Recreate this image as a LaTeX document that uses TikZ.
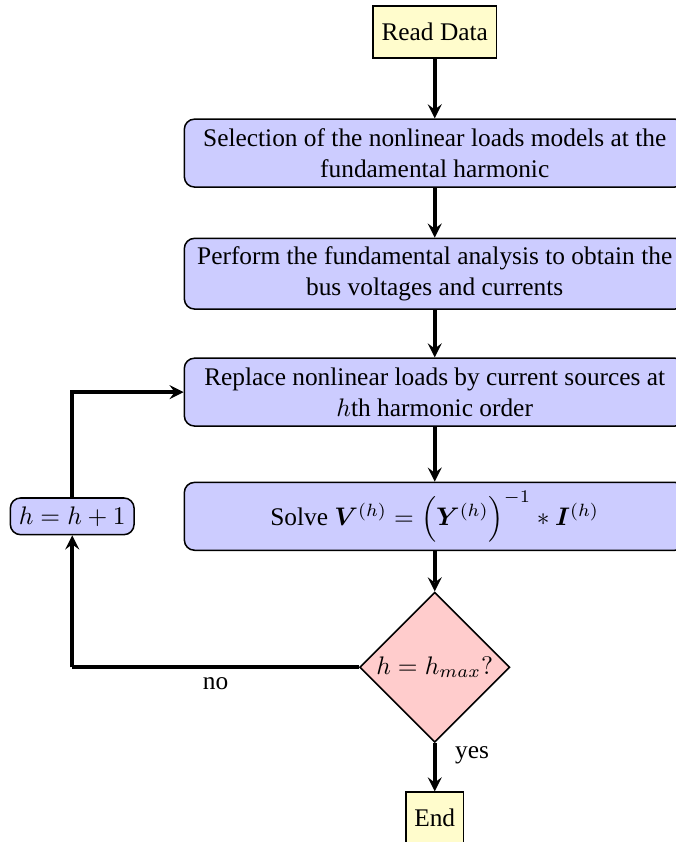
\documentclass[tikz,border=0pt]{standalone}
\usepackage{amsmath}
\usepackage{bm}
\usepackage[no-math]{fontspec}
\setmainfont{Liberation Serif}
\usetikzlibrary{shapes.geometric}

\begin{document}
\begin{tikzpicture}[>=stealth,
    proses/.style={draw, semithick, rounded corners, fill=blue!20, text width=6.7cm, align=flush center, minimum height=0.94cm},
    terminal/.style={draw, semithick, fill=yellow!20, minimum height=0.72cm},
    keputusan/.style={draw, semithick, diamond, aspect=1, fill=red!20, minimum width=2.08cm, minimum height=2.08cm, inner sep=1pt},
    hitung/.style={draw, semithick, rounded corners, fill=blue!20},
    garis/.style={line width=1.4pt},
    alur/.style={->, garis}]

    % Batas gambar
    \useasboundingbox (0,0) rectangle (9.36,-11.66);

    % Simpul utama (kolom tengah)
    \node[terminal] (baca) at (6.02,-0.44) {Read Data};
    \node[proses] (model) at (6.02,-2.12) {Selection of the nonlinear loads models at the fundamental harmonic};
    \node[proses] (fundamental) at (6.02,-3.79) {Perform the fundamental analysis to obtain the bus voltages and currents};
    \node[proses] (ganti) at (6.02,-5.43) {Replace nonlinear loads by current sources at $h$th harmonic order};
    \node[proses] (solusi) at (6.02,-7.15) {Solve $\bm{V}^{(h)} = \Big(\bm{Y}^{(h)}\Big)^{-1} * \bm{I}^{(h)}$};
    \node[keputusan] (cek) at (6.02,-9.24) {$h = h_{max}?$};
    \node[terminal] (akhir) at (6.02,-11.33) {End};

    % Simpul iterasi (kiri)
    \node[hitung] (iterasi) at (1.00,-7.15) {$h = h + 1$};
    \coordinate (belok) at (1.00,-9.24);

    % Panah alur
    \draw[alur] (baca) -- (model);
    \draw[alur] (model) -- (fundamental);
    \draw[alur] (fundamental) -- (ganti);
    \draw[alur] (ganti) -- (solusi);
    \draw[alur] (solusi) -- (cek);
    \draw[alur] (cek) -- (akhir) node[near start, right=4pt] {yes};

    % Putaran harmonik
    \draw[garis] (cek) -- (belok) node[midway, below] {no};
    \draw[alur] (belok) -- (iterasi);
    \draw[alur] (iterasi) |- (ganti);

\end{tikzpicture}
\end{document}
